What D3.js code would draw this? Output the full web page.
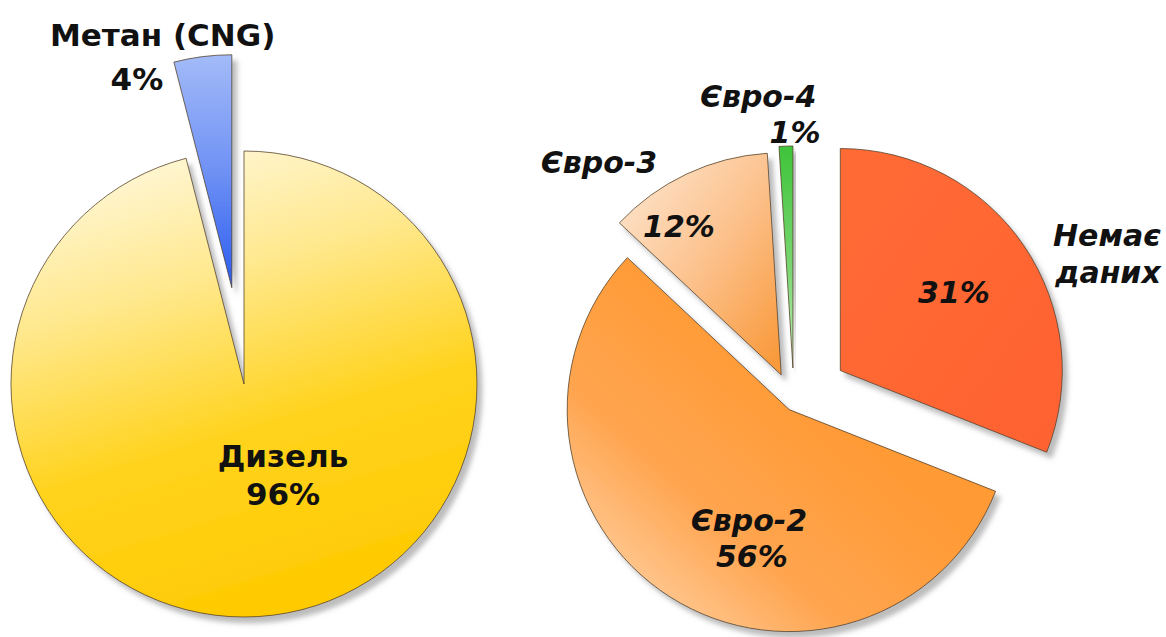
<!DOCTYPE html>
<html>
<head>
<meta charset="utf-8">
<script src="https://cdn.jsdelivr.net/npm/d3@7"></script>
<style>
  html, body { margin: 0; padding: 0; background: #ffffff; }
  svg { display: block; }
</style>
</head>
<body>
<svg id="chart" width="1166" height="637"></svg>
<script>
// Fuel type of the fleet
const fuelTypes  = ["Дизель", "Метан (CNG)"];
const fuelShares = [96, 4];

// Euro emission class of the fleet
const euroClasses = ["Немає даних", "Євро-2", "Євро-3", "Євро-4"];
const euroShares  = [31, 56, 12, 1];

// ---- layout & styling -------------------------------------------------
const fuelPie = {
  cx: 244, cy: 384, r: 233,
  explode: [0, 97],
  fills: ["gradDiesel", "gradMethane"],
  italic: false,
  fontSize: 31,
  // label placement: [angle in degrees clockwise from 12 o'clock, distance from slice apex]
  labels: [
    { name: [[151.6, 82]], value: [160.5, 117] },
    { name: [[344.7, 262]], value: [335.5, 229] }
  ],
  wrap: [false, false]
};

const euroPie = {
  cx: 794, cy: 402, r: 222,
  explode: [56, 9, 30, 34],
  fills: ["gradNoData", "gradEuro2", "gradEuro3", "gradEuro4"],
  italic: true,
  fontSize: 30,
  labels: [
    { name: [[63.2, 298.7], [69.8, 285.2]], value: [55.7, 137.6] },
    { name: [[200.0, 117.5]], value: [194.2, 152] },
    { name: [[319.3, 279.5]], value: [325.5, 180.6] },
    { name: [[352.7, 274.2]], value: [0.5, 236] }
  ],
  wrap: [true, false, false, false]
};

const svg = d3.select("#chart");
const defs = svg.append("defs");

// soft grey shadow behind every slice
const shadow = defs.append("filter")
  .attr("id", "sliceShadow")
  .attr("x", "-20%").attr("y", "-20%")
  .attr("width", "140%").attr("height", "140%");
shadow.append("feDropShadow")
  .attr("dx", 5).attr("dy", 6)
  .attr("stdDeviation", 2.5)
  .attr("flood-color", "#7a7a7a")
  .attr("flood-opacity", 0.5);

function linearGradient(id, x1, y1, x2, y2, stops) {
  const g = defs.append("linearGradient")
    .attr("id", id)
    .attr("x1", x1).attr("y1", y1)
    .attr("x2", x2).attr("y2", y2);
  stops.forEach(([o, c]) => g.append("stop").attr("offset", o).attr("stop-color", c));
}

linearGradient("gradDiesel", 0.25, 0, 0.55, 1,
  [[0, "#fff8dc"], [0.3, "#ffe88c"], [0.62, "#ffd31e"], [1, "#ffca00"]]);
linearGradient("gradMethane", 0, 0, 0, 1,
  [[0, "#a3bbf8"], [0.5, "#6f91f4"], [1, "#2b5cf0"]]);
linearGradient("gradNoData", 0, 0, 1, 1,
  [[0, "#ff6b36"], [1, "#ff6230"]]);
linearGradient("gradEuro2", 0.05, 0.85, 0.55, 0.35,
  [[0, "#ffcf9e"], [0.45, "#ffa550"], [1, "#ff9a35"]]);
linearGradient("gradEuro3", 0.1, 0.1, 0.95, 0.95,
  [[0, "#fde2c8"], [0.5, "#fcc08a"], [1, "#f99a3c"]]);
linearGradient("gradEuro4", 0, 0, 0, 1,
  [[0, "#3fc43a"], [0.55, "#7ad672"], [1, "#c2eebb"]]);

const pie = d3.pie().sort(null).value(d => d);
const toRad = Math.PI / 180;

function drawPie(values, names, cfg) {
  const arcs = pie(values);
  const arc = d3.arc().innerRadius(0).outerRadius(cfg.r);
  const g = svg.append("g").attr("transform", `translate(${cfg.cx},${cfg.cy})`);

  // apex of each slice after pulling it out along its bisector
  const apex = arcs.map((a, i) => {
    const mid = (a.startAngle + a.endAngle) / 2;
    const e = cfg.explode[i];
    return [Math.sin(mid) * e, -Math.cos(mid) * e];
  });

  g.selectAll("path.slice")
    .data(arcs)
    .join("path")
    .attr("class", "slice")
    .attr("transform", (d, i) => `translate(${apex[i][0]},${apex[i][1]})`)
    .attr("d", arc)
    .attr("fill", (d, i) => `url(#${cfg.fills[i]})`)
    .attr("stroke", "#4d3b22")
    .attr("stroke-opacity", 0.75)
    .attr("stroke-width", 1)
    .attr("stroke-linejoin", "miter")
    .attr("filter", "url(#sliceShadow)");

  const polar = (i, [deg, dist]) => [
    apex[i][0] + Math.sin(deg * toRad) * dist,
    apex[i][1] - Math.cos(deg * toRad) * dist
  ];

  const labels = g.append("g")
    .attr("font-family", "'DejaVu Sans', 'Liberation Sans', Arial, sans-serif")
    .attr("font-weight", "bold")
    .attr("font-style", cfg.italic ? "italic" : "normal")
    .attr("font-size", cfg.fontSize)
    .attr("fill", "#111111")
    .attr("text-anchor", "middle")
    .attr("dominant-baseline", "central");

  arcs.forEach((a, i) => {
    const pos = cfg.labels[i];
    const lines = cfg.wrap[i] ? names[i].split(" ") : [names[i]];
    lines.forEach((line, k) => {
      const [x, y] = polar(i, pos.name[k]);
      labels.append("text").attr("x", x).attr("y", y).text(line);
    });
    const [vx, vy] = polar(i, pos.value);
    labels.append("text").attr("x", vx).attr("y", vy).text(`${values[i]}%`);
  });
}

drawPie(fuelShares, fuelTypes, fuelPie);
drawPie(euroShares, euroClasses, euroPie);
</script>
</body>
</html>
